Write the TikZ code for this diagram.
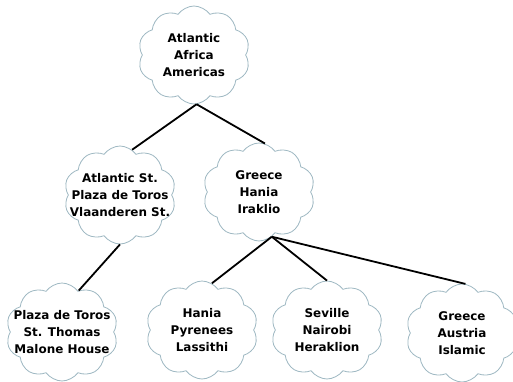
\documentclass[tikz,border=0pt]{standalone}
\usepackage{fontspec}
\setmainfont{DejaVu Sans}
\usetikzlibrary{shapes.symbols}
\definecolor{cloudline}{RGB}{158,184,194}
\tikzset{
  cloudbox/.style={cloud, cloud puffs=10, cloud puff arc=110, cloud ignores aspect,
    draw=cloudline, line width=0.8bp, fill=white, inner sep=0pt,
    minimum width=112bp, minimum height=98bp},
  cloudtext/.style={align=center, font=\bfseries\fontsize{12}{16.8}\selectfont, inner sep=0pt},
  link/.style={line width=1.8bp, black}
}
\begin{document}
\begin{tikzpicture}[x=1bp, y=-1bp]
\useasboundingbox (0,0) rectangle (513,381);
\node[cloudbox, label={[cloudtext]center:Atlantic\\Africa\\Americas}] (top) at (194,55) {};
\node[cloudbox, label={[cloudtext]center:Atlantic St.\\Plaza de Toros\\Vlaanderen St.}] (left) at (120,195) {};
\node[cloudbox, label={[cloudtext]center:Greece\\Hania\\Iraklio}] (right) at (259,192) {};
\node[cloudbox, label={[cloudtext]center:Plaza de Toros\\St. Thomas\\Malone House}] (plaza) at (62,332) {};
\node[cloudbox, label={[cloudtext]center:Hania\\Pyrenees\\Lassithi}] (hania) at (202,330) {};
\node[cloudbox, label={[cloudtext]center:Seville\\Nairobi\\Heraklion}] (seville) at (327,330) {};
\node[cloudbox, label={[cloudtext]center:Greece\\Austria\\Islamic}] (greece) at (462,333) {};
\draw[link] (top.-87) -- (left.75);
\draw[link] (top.-87) -- (right.83);
\draw[link] (left.south) -- (plaza.68);
\draw[link] (right.-74) -- (hania.78);
\draw[link] (right.-74) -- (seville.north);
\draw[link] (right.-74) -- (greece.86);
\end{tikzpicture}
\end{document}
